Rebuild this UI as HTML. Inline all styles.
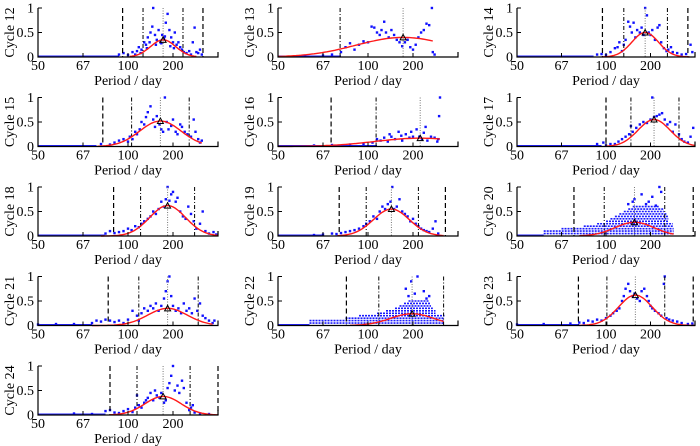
<!DOCTYPE html>
<html><head><meta charset="utf-8">
<style>
html,body{margin:0;padding:0;background:#fff;}
svg{display:block;font-family:"Liberation Serif",serif;}
</style></head>
<body>
<svg id="chart" width="700" height="446" viewBox="0 0 700 446" xmlns="http://www.w3.org/2000/svg"></svg>
<script>
// Frequencies in units of 1e-3 day^-1 (period = 1000/f days)
const cycles = [12,13,14,15,16,17,18,19,20,21,22,23,24];
const xTickFreq = [20,15,10,5];
const xTickLabels = ["50","67","100","200"];
const yTickValues = [0,0.5,1];
const yTickLabels = ["0","0.5","1"];
const dashedLines = [[10.6,1.67],[],[10.4,0.8],[12.8],[14.1],[10.0],[11.6],[13.2,1.4],[13.6,0.2],[12.2],[12.4],[13.1,0.2],[12.0,0.0]];
const dashDotLines = [[8.33,3.89],[13.1],[8.0,3.1],[9.6,3.2],[9.1],[7.2,1.8],[8.6,2.6],[10.2,4.4],[10.2,3.4],[8.8,2.2],[8.8,1.6],[9.9,3.4],[9.0,3.1]];
const dottedLines = [6.1,6.1,5.6,6.4,4.2,4.6,5.6,7.4,6.8,5.6,5.1,6.7,6.1];
const fitAmp = [0.35,0.40,0.50,0.52,0.17,0.55,0.62,0.55,0.28,0.35,0.24,0.62,0.38];
const fitSigma = [1.4,5.2,1.5,2.3,5.0,1.8,2.0,2.0,2.2,2.2,2.4,1.9,2.0];
const fitFrom = [9.8,20,10.4,13.4,20,10,13,13.4,13,14,12,13,12];
const fitTo = [2.4,2.8,0.6,1.8,2.0,0,0,1.6,2.4,0.6,1.6,0,0];
const floorEnd = [11,13,11.4,13.5,9,10.5,12.6,15,17,14,16.5,13,12.5];
const scatter = [
[[11,.05],[10.5,.08],[10,.04],[9.5,.1],[9,.12],[8.8,.2],[8.5,.15],[8.2,.3],[8,.25],[7.8,.4],[7.5,.5],[7.3,.62],[7.2,1.0],[7,.45],[6.8,.35],[6.6,.55],[6.4,.3],[6.2,.45],[6,.38],[5.8,.7],[5.6,.88],[5.4,.55],[5.2,.4],[5,.3],[4.8,.5],[4.6,.25],[4.4,.3],[4.2,.2],[4,.15],[3.8,.1],[3.5,.08],[3.2,.12],[3,.05],[2.8,.3],[2.6,.6],[2.4,.1],[2.2,.08],[2,.15],[1.8,.05],[7.6,.3],[6.9,.25],[6.3,.28],[5.9,.42],[5.3,.22],[4.9,.18],[7.9,.18],[8.6,.08],[9.2,.05]],
[[13,.1],[12.5,.2],[12,.28],[11.5,.15],[11,.25],[10.5,.32],[10,.3],[9.6,.62],[9.3,.6],[9,.5],[8.7,.45],[8.5,.55],[8.2,.72],[8,.5],[7.7,.4],[7.4,.55],[7.1,.45],[6.8,.35],[6.5,.3],[6.2,.22],[5.9,.3],[5.6,.35],[5.3,.2],[5,.15],[4.7,.25],[4.4,.4],[4.1,.5],[3.8,.55],[3.5,.68],[3.2,.65],[2.9,1.0],[2.8,.1],[2.6,.05],[14,.05],[15,.03],[17,.02]],
[[11,.05],[10.5,.06],[10,.04],[9.5,.1],[9,.18],[8.7,.2],[8.5,.3],[8.2,.12],[8,.25],[7.8,.35],[7.5,.72],[7.3,.62],[7.1,.5],[6.9,.7],[6.7,.4],[6.5,.55],[6.2,.5],[6,.6],[5.8,.45],[5.6,1.0],[5.4,.85],[5.2,.5],[5,.45],[4.8,.55],[4.5,.35],[4.2,.6],[4,.65],[3.8,.3],[3.5,.18],[3.2,.12],[3,.15],[2.7,.2],[2.5,.1],[2,.08],[1.5,.05],[1,.06],[0.5,.25],[0.3,.1]],
[[13,.05],[12,.04],[11.5,.08],[11,.12],[10.5,.15],[10,.1],[9.8,.2],[9.5,.15],[9.2,.3],[9,.25],[8.7,.35],[8.5,.5],[8.2,.45],[8,.6],[7.8,.7],[7.5,.82],[7.2,.55],[7,.4],[6.8,.62],[6.5,.45],[6.3,.35],[6.1,.3],[5.9,1.0],[5.7,.5],[5.5,.35],[5.2,.42],[5,.55],[4.7,.3],[4.5,.25],[4.2,.45],[4,.4],[3.7,.3],[3.4,.25],[3,.2],[2.7,.55],[2.5,.3],[2.2,.15],[2,.08],[1.8,.12]],
[[16,.02],[14,.03],[12,.04],[10.5,.05],[9.5,.08],[9,.15],[8.6,.12],[8.2,.18],[7.8,.1],[7.4,.2],[7,.15],[6.6,.3],[6.2,.12],[5.8,.25],[5.4,.18],[5,.2],[4.6,.35],[4.3,.2],[4,.15],[3.8,.28],[3.6,.4],[3.4,.12],[3,.2],[2.6,.18],[2.2,.15],[2.1,.62],[2,1.0],[2.3,.1],[7.6,.25],[6.3,.22],[5.2,.3]],
[[11,.05],[10.3,.08],[10,.02],[9.5,.05],[9,.05],[8.6,.1],[8.2,.15],[7.8,.2],[7.4,.25],[7.2,.42],[7,.3],[6.6,.38],[6.2,.45],[5.8,.5],[5.4,.48],[5,.55],[4.8,1.0],[4.6,.6],[4.3,.62],[4,.65],[3.7,.68],[3.4,.55],[3.1,.45],[2.8,.5],[2.5,.3],[2.2,.45],[1.8,.25],[1.5,.15],[1.2,.1],[0.8,.08],[0.5,.2],[0.2,.38]],
[[12.5,.05],[12,.1],[11.5,.06],[11,.08],[10.5,.1],[10,.15],[9.6,.12],[9.2,.2],[8.8,.18],[8.5,.25],[8.2,.3],[7.8,.35],[7.5,.4],[7.2,.5],[6.9,.45],[6.6,.55],[6.3,.7],[6,.6],[5.8,.75],[5.6,1.0],[5.4,.72],[5.2,.85],[5,.9],[4.7,.7],[4.5,.78],[4.2,.5],[3.9,.4],[3.6,.35],[3.3,.6],[3,.45],[2.7,.3],[2.4,.15],[2,.25],[1.7,.5],[1.4,.1],[1,.05],[0.5,.08],[0.2,.03]],
[[16,.02],[15,.03],[14,.05],[13.5,.04],[13,.06],[12.5,.08],[12,.1],[11.5,.12],[11,.15],[10.5,.2],[10.2,.25],[9.8,.3],[9.4,.4],[9,.35],[8.7,.5],[8.4,.6],[8.1,.55],[7.8,.65],[7.5,.7],[7.3,1.0],[7.1,.55],[6.8,.6],[6.5,.75],[6.2,.5],[5.9,.45],[5.6,.4],[5.3,.3],[5,.35],[4.7,.25],[4.4,.2],[4.1,.15],[3.8,.12],[3.5,.1],[3.2,.08],[2.8,.15],[2.5,.3],[2.2,.05]],
[[7,.7],[6.8,.75],[6,.85],[5.5,.65],[4.8,.8],[4,1.0],[3.8,.9],[7.5,.65],[5.2,.7],[4.4,.62]],
[[20,.02],[18,.03],[16,.03],[14,.05],[13.5,.1],[13,.08],[12.5,.12],[12,.1],[11.5,.07],[11,.1],[10.5,.05],[10,.12],[9.5,.3],[9,.2],[8.8,.1],[8.5,.25],[8.2,.35],[7.8,.3],[7.5,.4],[7.2,.35],[6.9,.45],[6.6,.3],[6.3,.4],[6,.55],[5.8,.7],[5.6,.9],[5.4,1.0],[5.2,.6],[5,.4],[4.7,.3],[4.4,.35],[4.1,.25],[3.8,.45],[3.5,.3],[3.2,.35],[2.9,.25],[2.6,.55],[2.3,.3],[2,.45],[1.7,.2],[1.4,.15],[1,.1],[0.6,.05],[0.4,.1]],
[[5.5,.6],[5.2,.9],[4.5,1.0],[3.8,.7],[3.5,.55],[5.8,.75],[4.8,.65],[3.2,.6]],
[[20,.02],[17,.03],[14,.04],[13,.06],[12.5,.05],[12,.1],[11.5,.08],[11,.12],[10.5,.1],[10,.15],[9.5,.2],[9.2,.25],[8.8,.3],[8.5,.35],[8.2,.5],[8,.6],[7.8,.75],[7.5,.85],[7.3,.7],[7,.6],[6.8,.65],[6.5,.55],[6.2,.5],[6,.7],[5.7,.75],[5.4,.6],[5.2,.5],[5,.4],[4.8,.35],[4.5,.3],[4.1,.25],[3.8,.2],[3.5,.85],[3.4,1.0],[3.2,.15],[2.9,.12],[2.5,.1],[2,.08],[1.5,.05],[0.8,.03],[0.3,.04]],
[[16,.03],[14,.02],[12.5,.08],[12,.1],[11.5,.05],[11,.04],[10.5,.08],[10,.12],[9.5,.06],[9.2,.15],[9,.4],[8.8,.2],[8.5,.15],[8.2,.25],[8,.3],[7.8,.35],[7.5,.45],[7.2,.3],[7,.5],[6.8,.4],[6.5,.35],[6.3,.45],[6,.25],[5.8,.3],[5.6,.55],[5.4,.65],[5.2,.8],[5,1.0],[4.8,.5],[4.5,.6],[4.3,.45],[4,.7],[3.8,.55],[3.5,.25],[3.2,.1],[3,.15],[2.8,.2],[2.6,.05],[2,.03],[1,.02]]
];
// quantized bands [fStart, fEnd, level] for cycles 20 and 22
const bands20 = [[17,2.4,.05],[17,2.4,.1],[15,2.4,.15],[12.5,2.5,.2],[11,2.5,.25],[10,3,.3],[9.5,3,.35],[9,3,.4],[8.5,3.2,.45],[8,3.5,.5],[7.5,3.5,.55],[7,4,.6]];
const bands22 = [[16.5,1.5,.05],[16.5,1.5,.1],[12.5,1.5,.15],[11,1.5,.2],[9,2.5,.25],[8,2.5,.3],[7,2.8,.35],[6.5,3,.4],[6,3,.45],[5.5,3.2,.5]];

const NS="http://www.w3.org/2000/svg";
const svg=document.getElementById('chart');
const colLeft=[38,278,517], colW=[180,180,178];
const rowTop=[8,97.5,187,276.5,366], plotH=49;
function mk(tag,attrs,parent){const e=document.createElementNS(NS,tag);for(const k in attrs)e.setAttribute(k,attrs[k]);(parent||svg).appendChild(e);return e;}

cycles.forEach((cyc,i)=>{
  const col=i%3,row=Math.floor(i/3);
  const L=colLeft[col],W=colW[col],T=rowTop[row],B=T+plotH;
  const xs=f=>L+(20-f)/20*W;
  const ys=v=>B-v*plotH;
  const g=mk('g',{});
  
  
  const fl=mk('line',{x1:xs(20),x2:xs(floorEnd[i]),y1:ys(0.01),y2:ys(0.01),stroke:'#2222ff','stroke-width':2},g);
  
  
  const bands = cyc===20?bands20:(cyc===22?bands22:[]);
  bands.forEach(b=>{
    const bl=mk('line',{x1:xs(b[0]),x2:xs(b[1]),y1:ys(b[2]),y2:ys(b[2]),stroke:'#1a1aff','stroke-width':1.6,'stroke-dasharray':'2 1'},g);
    
    
  });
  scatter[i].forEach(p=>{
    const r=mk('rect',{x:xs(p[0])-1.2,y:ys(p[1])-1.2,width:2.4,height:2.4,fill:'#1010ff'},g);
    
    
  });
  dashedLines[i].forEach(f=>{
    const l=mk('line',{x1:xs(f),x2:xs(f),y1:T,y2:B,stroke:'#000','stroke-width':1.2,'stroke-dasharray':'5 3'},g);
    
    
  });
  dashDotLines[i].forEach(f=>{
    const l=mk('line',{x1:xs(f),x2:xs(f),y1:T,y2:B,stroke:'#000','stroke-width':1,'stroke-dasharray':'4 2 1 2'},g);
    
    
  });
  const dl=mk('line',{x1:xs(dottedLines[i]),x2:xs(dottedLines[i]),y1:T,y2:B,stroke:'#777','stroke-width':1,'stroke-dasharray':'1 1.5'},g);
  
  
  let d='';
  for(let k=0;k<=60;k++){
    const f=fitFrom[i]+(fitTo[i]-fitFrom[i])*k/60;
    const v=fitAmp[i]*Math.exp(-Math.pow(f-dottedLines[i],2)/(2*fitSigma[i]*fitSigma[i]));
    d+=(k?'L':'M')+xs(f).toFixed(1)+' '+ys(v).toFixed(1);
  }
  const c=mk('path',{d:d,fill:'none',stroke:'#ff1a1a','stroke-width':1.4},g);
  
  
  const px=xs(dottedLines[i]),py=ys(fitAmp[i]);
  const tri=mk('path',{d:`M${px-3} ${py+2.5}L${px+3} ${py+2.5}L${px} ${py-3}Z`,fill:'none',stroke:'#000','stroke-width':1},g);
  
  
  const ax=mk('path',{d:`M${L} ${T}L${L} ${B}L${L+W} ${B}L${L+W} ${B-5}`,fill:'none',stroke:'#000','stroke-width':1.2},g);
  
  
  yTickValues.forEach((v,k)=>{
    mk('line',{x1:L,x2:L+4,y1:ys(v),y2:ys(v),stroke:'#000','stroke-width':1},g);
    const t=mk('text',{x:L-4,y:ys(v)+4.5,'text-anchor':'end','font-size':14,fill:'#000'},g);
    t.textContent=yTickLabels[k];
    
    
  });
  xTickFreq.forEach((f,k)=>{
    mk('line',{x1:xs(f),x2:xs(f),y1:B,y2:B-4,stroke:'#000','stroke-width':1},g);
    const t=mk('text',{x:xs(f),y:B+13,'text-anchor':'middle','font-size':14,fill:'#000'},g);
    t.textContent=xTickLabels[k];
    
    
  });
  const xt=mk('text',{x:L+W/2,y:B+28,'text-anchor':'middle','font-size':14,fill:'#000'},g);
  xt.textContent='Period / day';
  
  
  const yt=mk('text',{x:0,y:0,'text-anchor':'middle','font-size':14,fill:'#000',transform:`translate(${L-24},${T+plotH/2}) rotate(-90)`},g);
  yt.textContent='Cycle '+cyc;
  
  
});
</script>
</body></html>
